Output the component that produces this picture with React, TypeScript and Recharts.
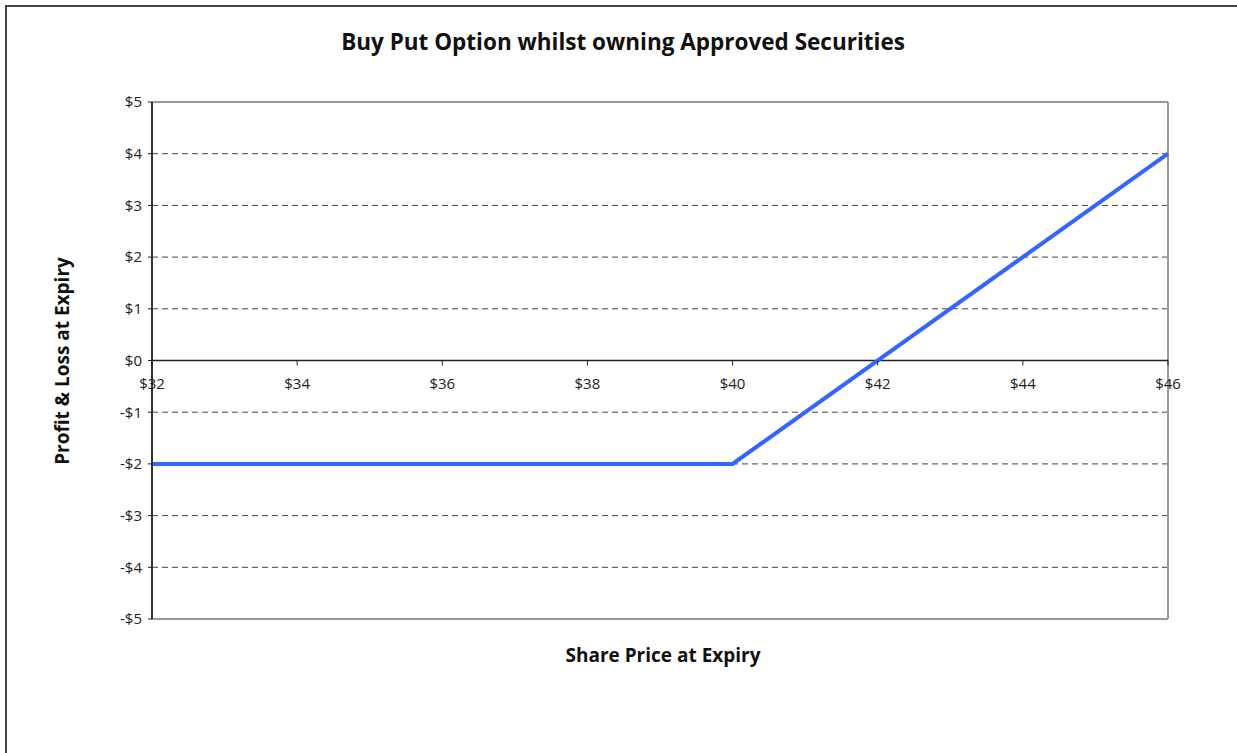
import { CartesianGrid, Line, LineChart, ReferenceLine, XAxis, YAxis } from "recharts";

const sharePrice = [32, 40, 46];
const profitLoss = [-2, -2, 4];
const xTicks = [32, 34, 36, 38, 40, 42, 44, 46];
const yTicks = [-5, -4, -3, -2, -1, 0, 1, 2, 3, 4, 5];
const gridValues = [-4, -3, -2, -1, 1, 2, 3, 4];

const data = sharePrice.map((price, i) => ({ price, pl: profitLoss[i] }));

const W = 1237;
const H = 753;
const PLOT_LEFT = 152;
const PLOT_TOP = 102;
const PLOT_RIGHT = 1168;
const PLOT_BOTTOM = 619;
const Y_AXIS_W = 80;
const FONT = "'Open Sans', 'DejaVu Sans', sans-serif";

const money = (v: number) => (v < 0 ? `-$${Math.abs(v)}` : `$${v}`);

// x axis sits on the zero line, not at the bottom of the plot
function XTick(props: any) {
  const { x, payload } = props;
  const zeroY = (PLOT_TOP + PLOT_BOTTOM) / 2;
  return (
    <g>
      <line x1={x} x2={x} y1={zeroY} y2={zeroY + 5} stroke="#222" strokeWidth={1} />
      <text x={x} y={zeroY + 28} textAnchor="middle" fill="#222" fontSize={15} fontFamily={FONT}>
        {money(payload.value)}
      </text>
    </g>
  );
}

export default function App() {
  return (
    <div style={{ position: "absolute", left: 0, top: 0, width: W, height: H, overflow: "hidden", background: "#fff" }}>
      <div
        style={{
          position: "absolute",
          left: 5,
          top: 5,
          width: W + 20,
          height: H + 20,
          border: "2px solid #444",
        }}
      />
      <div
        style={{
          position: "absolute",
          left: 0,
          top: 27,
          width: 1246,
          textAlign: "center",
          fontFamily: FONT,
          fontWeight: 700,
          fontSize: 22.5,
          lineHeight: "30px",
          color: "#111",
        }}
      >
        Buy Put Option whilst owning Approved Securities
      </div>
      <div
        style={{
          position: "absolute",
          left: PLOT_LEFT,
          top: 642,
          width: PLOT_RIGHT - PLOT_LEFT + 6,
          textAlign: "center",
          fontFamily: FONT,
          fontWeight: 700,
          fontSize: 19,
          lineHeight: "26px",
          color: "#111",
        }}
      >
        Share Price at Expiry
      </div>
      <div
        style={{
          position: "absolute",
          left: 62,
          top: (PLOT_TOP + PLOT_BOTTOM) / 2,
          transform: "translate(-50%, -50%) rotate(-90deg)",
          whiteSpace: "nowrap",
          fontFamily: FONT,
          fontWeight: 700,
          fontSize: 19,
          lineHeight: "26px",
          color: "#111",
        }}
      >
        Profit &amp; Loss at Expiry
      </div>
      <div style={{ position: "absolute", left: 0, top: 0 }}>
        <LineChart
          width={W}
          height={H}
          data={data}
          margin={{ top: PLOT_TOP, right: W - PLOT_RIGHT, bottom: 0, left: PLOT_LEFT - Y_AXIS_W }}
        >
          <CartesianGrid
            horizontalValues={gridValues}
            vertical={false}
            stroke="#444"
            strokeDasharray="6 4"
          />
          <XAxis
            dataKey="price"
            type="number"
            domain={[32, 46]}
            ticks={xTicks}
            height={H - PLOT_BOTTOM}
            axisLine={false}
            tickLine={false}
            tick={<XTick />}
            interval={0}
          />
          <YAxis
            type="number"
            domain={[-5, 5]}
            ticks={yTicks}
            width={Y_AXIS_W}
            interval={0}
            tickFormatter={money}
            axisLine={{ stroke: "#333", strokeWidth: 2 }}
            tickLine={{ stroke: "#222" }}
            tickSize={4}
            tick={{ fill: "#222", fontSize: 15, fontFamily: FONT, dx: -4 }}
          />
          <ReferenceLine y={5} stroke="#999" strokeWidth={2} />
          <ReferenceLine y={-5} stroke="#999" strokeWidth={2} />
          <ReferenceLine x={46} stroke="#999" strokeWidth={2} />
          <ReferenceLine y={0} stroke="#222" strokeWidth={1.5} />
          <Line
            type="linear"
            dataKey="pl"
            stroke="#3366FF"
            strokeWidth={4}
            dot={false}
            isAnimationActive={false}
          />
        </LineChart>
      </div>
    </div>
  );
}
